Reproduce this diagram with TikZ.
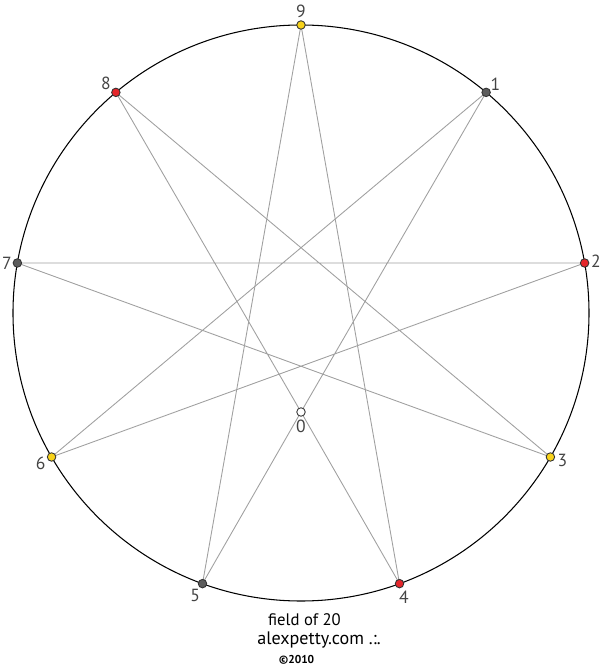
\documentclass[tikz,border=0pt]{standalone}
\usepackage{fontspec}
\setmainfont{PT Sans}
\usetikzlibrary{positioning,calc}

\definecolor{dotYellow}{HTML}{F7D21A}
\definecolor{dotRed}{HTML}{E5262B}
\definecolor{dotGrey}{HTML}{5C5C5C}
\definecolor{chordGrey}{HTML}{A0A0A0}
\definecolor{labelGrey}{HTML}{444444}

\tikzset{
    chord/.style={draw=chordGrey, line width=0.5pt},
    dot/.style={circle, draw=black!80, line width=0.5pt, fill=#1, minimum size=0.17cm, inner sep=0pt},
    digit/.style={text=labelGrey, inner sep=0pt, font=\fontsize{10}{12}\selectfont},
}

\begin{document}
\begin{tikzpicture}
    \useasboundingbox (-6.02,-7.08) rectangle (6.04,6.26);
    % the field circle
    \draw[line width=0.6pt] (0,0) circle (5.76);
    % points on the circle: name/angle/label angle/label distance
    \foreach \n/\ang/\la/\ld in {9/90/90/0.27, 1/50/42/0.25,
        2/10/8/0.23, 3/-30/-15/0.25, 4/-70/-72/0.28,
        5/-110/-122/0.28, 6/-150/-150/0.25, 7/170/180/0.21,
        8/130/138/0.27}
    {
        \coordinate (p\n) at (\ang:5.76);
        \coordinate (l\n) at ($(p\n)+(\la:\ld)$);
    }
    \coordinate (p0) at (0,-1.98);
    \coordinate (l0) at (0,-2.27);
    % chords
    \draw[chord] (p0) -- (p1) -- (p6) -- (p2) -- (p7) -- (p3) -- (p8) -- cycle;
    \draw[chord] (p0) -- (p5) -- (p9) -- (p4) -- cycle;
    % dots and digits
    \foreach \n/\col in {9/dotYellow, 1/dotGrey, 2/dotRed, 3/dotYellow, 4/dotRed,
        5/dotGrey, 6/dotYellow, 7/dotGrey, 8/dotRed, 0/white}
    {
        \node[dot=\col] (d\n) at (p\n) {};
        \node[digit] (t\n) at (l\n) {\n};
    }
    % caption
    \node[inner sep=0pt, font=\fontsize{9.5}{11}\selectfont] (field) at (0.07,-6.14) {field of 20};
    \node[inner sep=0pt, font=\fontsize{10.3}{12}\selectfont] (site) at (0.36,-6.54) {alexpetty.com .:.};
    \node[inner sep=0pt, font=\fontsize{6.5}{8}\selectfont\bfseries] (year) at (-0.09,-6.94) {©2010};
\end{tikzpicture}
\end{document}
